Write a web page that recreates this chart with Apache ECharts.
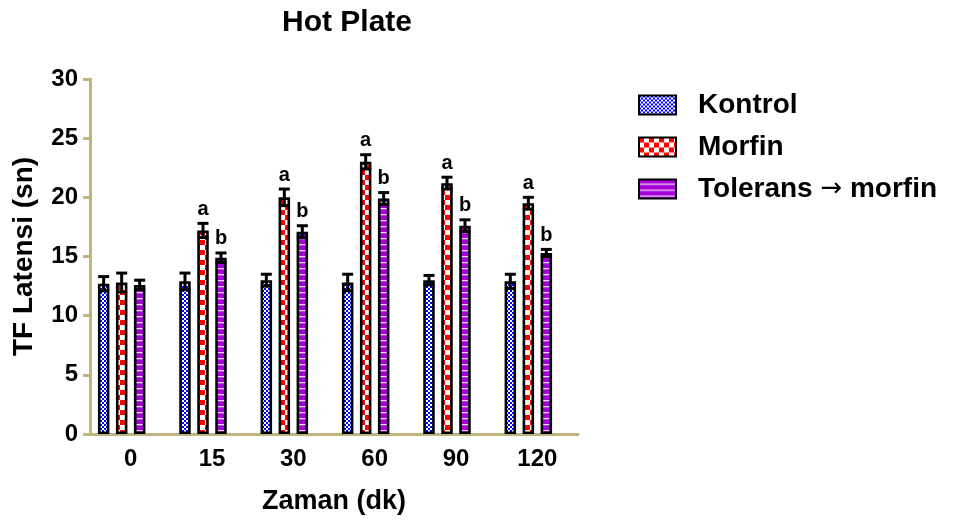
<!DOCTYPE html>
<html>
<head>
<meta charset="utf-8">
<script src="https://cdn.jsdelivr.net/npm/echarts@6/dist/echarts.min.js"></script>
<style>
  html, body { margin: 0; padding: 0; background: #fff; }
  #chart { width: 954px; height: 521px; }
</style>
</head>
<body>
<div id="chart"></div>
<script>
// data
const categories = ['0', '15', '30', '60', '90', '120']
const kontrol = [12.7, 12.9, 13.0, 12.8, 13.0, 12.9]
const kontrolErr = [0.6, 0.7, 0.5, 0.7, 0.4, 0.6]
const morfin = [12.8, 17.2, 20.0, 23.0, 21.2, 19.5]
const morfinErr = [0.8, 0.6, 0.7, 0.6, 0.5, 0.5]
const tolerans = [12.6, 14.9, 17.1, 19.9, 17.6, 15.3]
const toleransErr = [0.4, 0.4, 0.5, 0.5, 0.5, 0.3]
const morfinSig = ['', 'a', 'a', 'a', 'a', 'a']
const toleransSig = ['', 'b', 'b', 'b', 'b', 'b']
const seriesNames = ['Kontrol', 'Morfin', 'Tolerans \u2192 morfin']

const FONT = '"Liberation Sans", Arial, Helvetica, sans-serif'
const AXIS_COLOR = '#C2B47E'

// fill patterns
function makePattern(w, h, draw) {
  const c = document.createElement('canvas')
  c.width = w
  c.height = h
  draw(c.getContext('2d'))
  return { image: c, repeat: 'repeat' }
}
const blueChecks = makePattern(4, 4, ctx => {
  ctx.fillStyle = '#fff'; ctx.fillRect(0, 0, 4, 4)
  ctx.fillStyle = '#0000ff'; ctx.fillRect(0, 0, 2, 2); ctx.fillRect(2, 2, 2, 2)
})
const redChecks = makePattern(10, 10, ctx => {
  ctx.fillStyle = '#fff'; ctx.fillRect(0, 0, 10, 10)
  ctx.fillStyle = '#ff0000'; ctx.fillRect(0, 0, 5, 5); ctx.fillRect(5, 5, 5, 5)
})
const purpleLines = makePattern(6, 6, ctx => {
  ctx.fillStyle = '#a600d8'; ctx.fillRect(0, 0, 6, 6)
  ctx.fillStyle = '#f0d8f8'; ctx.fillRect(0, 4, 6, 1.3)
})

const fills = [blueChecks, redChecks, purpleLines]
const values = [kontrol, morfin, tolerans]
const errs = [kontrolErr, morfinErr, toleransErr]
const sigs = [null, morfinSig, toleransSig]
// bar centre offsets within a band (4 slots, last one empty)
const offsets = [-27, -9, 9]

const chart = echarts.init(document.getElementById('chart'))

const barSeries = values.map((v, i) => ({
  name: seriesNames[i],
  type: 'bar',
  data: v,
  barWidth: 11.5,
  barGap: '56.5%',
  itemStyle: { color: fills[i], borderColor: '#000', borderWidth: 2.6 },
  z: 2
}))
// empty slot so the visible group sits left of the tick, as in the original
barSeries.push({ name: 'spacer', type: 'bar', data: categories.map(() => '-'), barWidth: 11.5, barGap: '56.5%' })

const errSeries = values.map((v, i) => ({
  type: 'custom',
  name: seriesNames[i] + ' err',
  data: v.map((val, k) => [k, val, errs[i][k]]),
  z: 5,
  renderItem: (params, api) => {
    const k = api.value(0)
    const val = api.value(1)
    const e = api.value(2)
    const letter = sigs[i] ? sigs[i][k] : ''
    const base = api.coord([k, val])
    const top = api.coord([k, val + e])
    const bot = api.coord([k, val - e])
    const x = base[0] + offsets[i]
    const cap = 5.5
    const style = { stroke: '#000', lineWidth: 3 }
    const children = [
      { type: 'line', shape: { x1: x, y1: bot[1], x2: x, y2: top[1] }, style },
      { type: 'line', shape: { x1: x - cap, y1: top[1], x2: x + cap, y2: top[1] }, style },
      { type: 'line', shape: { x1: x - cap, y1: bot[1], x2: x + cap, y2: bot[1] }, style }
    ]
    if (letter) {
      children.push({
        type: 'text',
        style: {
          x: x, y: top[1] - 4, text: letter, textAlign: 'center', textVerticalAlign: 'bottom',
          fill: '#000', font: 'bold 20px ' + FONT
        }
      })
    }
    return { type: 'group', children }
  }
}))

chart.setOption({
  animation: false,
  title: {
    text: 'Hot Plate',
    left: 277,
    top: 3,
    textStyle: { fontFamily: FONT, fontSize: 30, fontWeight: 'bold', color: '#000' }
  },
  legend: {
    data: seriesNames,
    orient: 'vertical',
    left: 633,
    top: 86,
    itemWidth: 37,
    itemHeight: 19,
    itemGap: 14,
    icon: 'rect',
    formatter: name => name.replace(' \u2192 ', ' {arr|\u2192} '),
    textStyle: {
      fontFamily: FONT, fontSize: 28, fontWeight: 'bold', color: '#000', padding: [0, 0, 0, 17],
      rich: {
        arr: { fontFamily: '"DejaVu Sans"', fontSize: 26, fontWeight: 'normal', color: '#000' }
      }
    }
  },
  grid: { left: 90, top: 79, width: 488, height: 355 },
  xAxis: {
    type: 'category',
    data: categories,
    name: 'Zaman (dk)',
    nameLocation: 'middle',
    nameGap: 54,
    nameTextStyle: { fontFamily: FONT, fontSize: 27, fontWeight: 'bold', color: '#000' },
    axisLine: { lineStyle: { color: AXIS_COLOR, width: 3 } },
    axisTick: { alignWithLabel: true, length: 8, lineStyle: { color: AXIS_COLOR, width: 3 } },
    axisLabel: { margin: 13, fontFamily: FONT, fontSize: 24, fontWeight: 'bold', color: '#000' }
  },
  yAxis: {
    type: 'value',
    min: 0,
    max: 30,
    interval: 5,
    name: 'TF Latensi (sn)',
    nameLocation: 'middle',
    nameGap: 52,
    nameTextStyle: { fontFamily: FONT, fontSize: 28, fontWeight: 'bold', color: '#000' },
    axisLine: { show: true, lineStyle: { color: AXIS_COLOR, width: 3 } },
    axisTick: { show: true, length: 7, lineStyle: { color: AXIS_COLOR, width: 3 } },
    splitLine: { show: false },
    axisLabel: { margin: 12, fontFamily: FONT, fontSize: 24, fontWeight: 'bold', color: '#000' }
  },
  series: [...barSeries, ...errSeries]
})
</script>
</body>
</html>
